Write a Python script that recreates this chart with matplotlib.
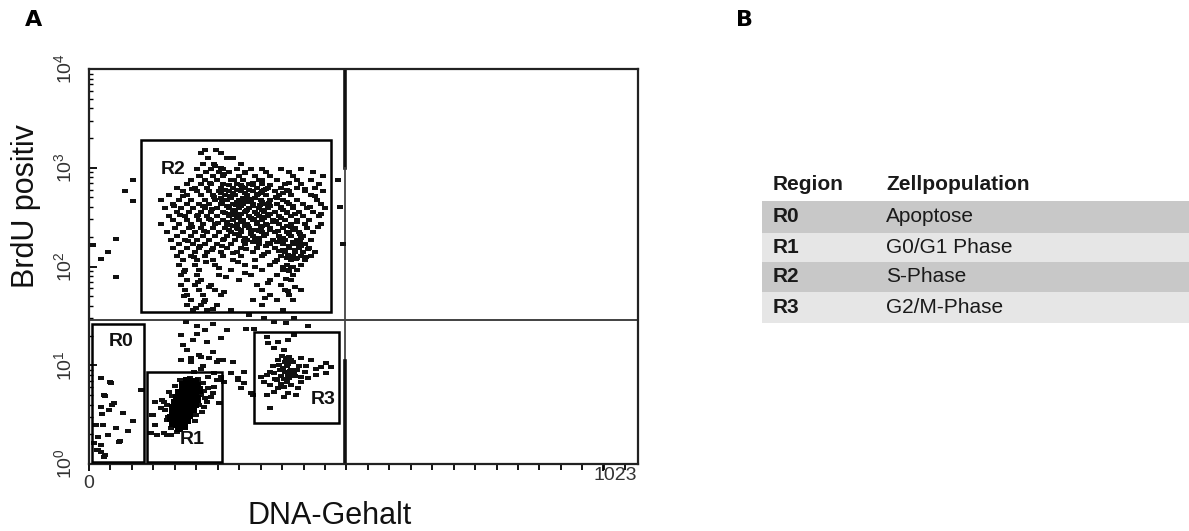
import numpy as np
import matplotlib
matplotlib.use("Agg")
import matplotlib.pyplot as plt
from matplotlib.patches import Rectangle
from matplotlib.ticker import LogLocator, FixedLocator
from matplotlib.transforms import ScaledTranslation

plt.rcParams['font.family'] = ['Liberation Sans', 'DejaVu Sans']

# ---- gates (DNA channel 0-1023, BrdU log intensity) ----
regions = ['R0', 'R1', 'R2', 'R3']
populations = ['Apoptose', 'G0/G1 Phase', 'S-Phase', 'G2/M-Phase']
gate_x0 = [6, 115, 103, 328]
gate_x1 = [109, 265, 482, 498]
gate_y0 = [1.05, 1.05, 34.6, 2.6]
gate_y1 = [26.2, 8.55, 1910, 21.7]
label_x = [64, 205, 167, 466]
label_y = [17.6, 1.75, 970, 4.45]
quad_x = 510
quad_y = 28.7

# ---- events, S-phase (R2): BrdU level -> DNA channels ----
r2_levels = [1510, 1400, 1250, 1100, 980, 900, 820, 750, 690, 630, 575, 525, 471, 430,
             393, 355, 325, 296, 270, 245, 224, 203, 185, 168, 154, 140, 128, 116, 104,
             92, 82, 73, 65, 58, 52, 46, 41, 36]
r2_channels = [
    [230, 252], [222, 262], [236, 274, 286], [226, 248, 302],
    [214, 242, 266, 294, 322, 345, 381, 421],
    [232, 258, 278, 310, 353, 397, 445],
    [218, 246, 266, 298, 330, 361, 405, 465],
    [203, 230, 254, 282, 306, 338, 373, 413, 441],
    [195, 222, 242, 266, 294, 318, 345, 389, 421, 457],
    [175, 210, 234, 262, 286, 310, 334, 357, 381, 413, 449],
    [187, 214, 238, 258, 278, 302, 326, 345, 369, 397, 429, 465],
    [159, 195, 222, 246, 270, 290, 314, 334, 353, 377, 401, 441],
    [143, 179, 203, 230, 250, 274, 298, 322, 342, 361, 385, 413, 453],
    [167, 195, 218, 238, 262, 286, 306, 326, 349, 373, 397, 425, 461],
    [151, 183, 206, 230, 254, 278, 298, 318, 338, 357, 381, 405, 433, 469],
    [175, 199, 222, 242, 266, 290, 310, 330, 349, 369, 393, 417, 445],
    [159, 191, 214, 234, 254, 278, 298, 318, 338, 357, 377, 401, 425, 457],
    [167, 195, 218, 242, 266, 286, 306, 326, 345, 365, 389, 413, 437],
    [143, 179, 203, 226, 250, 274, 294, 314, 334, 353, 377, 401, 429, 461],
    [171, 199, 222, 246, 270, 294, 318, 342, 361, 385, 409, 433],
    [155, 187, 210, 234, 258, 282, 302, 322, 345, 369, 393, 417, 445],
    [175, 203, 226, 250, 274, 298, 326, 349, 377, 401, 425],
    [163, 191, 214, 238, 266, 290, 314, 338, 365, 389, 413, 441],
    [179, 206, 230, 254, 282, 310, 338, 361, 385, 409, 429],
    [167, 195, 218, 246, 274, 302, 334, 369, 397, 417, 437],
    [183, 210, 234, 262, 294, 326, 357, 389, 409, 425, 449],
    [175, 203, 230, 266, 302, 345, 381, 405, 421, 441],
    [187, 214, 246, 286, 330, 373, 401, 429],
    [179, 210, 250, 310, 361, 393, 421],
    [191, 218, 282, 345, 385, 413],
    [183, 214, 258, 322, 373, 405],
    [195, 222, 298, 361, 401],
    [183, 210, 242, 334, 381],
    [191, 218, 250, 345, 389, 421],
    [195, 226, 262, 361, 397],
    [203, 230, 326, 373, 405],
    [195, 222, 254, 345],
    [206, 234, 282, 385],
]
r2_core_levels = [665, 595, 550, 495, 450, 410, 373, 340, 310, 283, 257, 234, 214,
                  194, 176, 161, 147, 122, 100, 92]
r2_core_channels = [
    [278, 302, 326, 361], [270, 294, 318, 349, 393], [286, 310, 342, 385],
    [262, 282, 306, 330, 373], [294, 318, 345, 393], [274, 302, 326, 361, 405],
    [286, 314, 345, 385], [278, 302, 334, 361, 409], [294, 322, 349, 381],
    [274, 302, 334, 365, 413], [286, 310, 345, 393], [278, 302, 330, 361, 405],
    [294, 322, 353, 397], [310, 338, 385, 421], [326, 373, 405], [353, 397, 421],
    [385, 409], [393, 413], [385, 405], [391, 397],
]
# scattered S-phase events between the levels
r2_extra_x = [250, 268, 289, 241, 305, 327, 352, 262, 281, 299, 318, 336, 372, 248, 264,
              292, 308, 341, 359, 381, 227, 244, 270, 289, 313, 329, 348, 371, 394, 216,
              238, 257, 281, 296, 317, 338, 355, 376, 401, 420, 205, 229, 251, 268, 291,
              309, 330, 357, 380, 398, 419, 436, 196, 220, 244, 265, 287, 312, 349, 378,
              396, 412, 432, 209, 232, 258, 296, 330, 370, 402, 188, 216, 239, 272, 311,
              356, 392, 410, 188, 228, 268, 350, 395, 212, 246, 181, 170, 186, 205, 220,
              262, 310, 345, 398, 430, 450, 440, 462, 455]
r2_extra_y = [1050, 870, 760, 700, 640, 705, 610, 560, 520, 590, 480, 545, 500, 505, 455,
              420, 470, 415, 440, 398, 410, 380, 350, 330, 365, 300, 320, 290, 345, 330,
              300, 275, 262, 240, 255, 230, 262, 228, 250, 212, 250, 228, 205, 190, 215,
              180, 195, 172, 185, 160, 175, 150, 180, 160, 148, 160, 138, 150, 135, 143,
              130, 118, 126, 125, 110, 96, 110, 100, 112, 98, 88, 70, 62, 78, 86,
              68, 75, 62, 50, 44, 55, 48, 56, 38, 37, 330, 410, 520, 610, 820,
              1000, 880, 760, 700, 610, 520, 400, 340, 250]

# ---- events, G0/G1 (R1) ----
r1_core_x = [195, 203, 210, 187, 199, 214, 206, 191, 218,
             179, 187, 195, 203, 210, 175, 183, 191, 199, 206, 214, 171, 179, 187, 195,
             203, 210, 167, 175, 183, 191, 199, 206,
             167, 175, 183, 191, 199, 163, 171, 179, 187, 195, 167, 175, 183, 179, 189]
r1_core_y = [6.9, 6.6, 6.8, 6.3, 6.0, 6.2, 5.75, 5.6, 5.6,
             5.2, 5.1, 5.2, 5.1, 5.0, 4.7, 4.55, 4.7, 4.55, 4.45, 4.55, 4.1, 4.05, 4.1, 4.05,
             3.95, 4.05, 3.7, 3.6, 3.7, 3.6, 3.5, 3.6,
             3.3, 3.2, 3.3, 3.2, 3.1, 2.9, 2.85, 2.9, 2.85, 2.8, 2.6, 2.55, 2.6, 2.3, 2.4]
r1_x = [131, 145, 155, 125, 131, 135, 155, 151, 226, 236, 246, 254, 234, 224, 201, 181,
        149, 143, 157, 169, 183, 222, 236, 248, 258, 242, 228, 127, 149, 163, 123,
        159, 222, 218, 212, 163, 175, 230, 155, 216, 228, 210, 165, 171]
r1_y = [4.25, 4.45, 3.95, 3.1, 2.5, 1.97, 1.97, 3.5, 6.6, 5.9, 5.2, 7.1, 4.25, 3.36, 7.4, 7.1,
        4.25, 3.7, 3.0, 2.6, 2.37, 6.6, 7.6, 6.0, 4.1, 4.8, 3.8, 3.1, 2.06, 1.97, 2.06,
        5.35, 5.0, 3.95, 3.1, 2.3, 2.1, 4.65, 2.8, 7.3, 5.5, 2.75, 4.9, 6.2]

# ---- events, G2/M (R3) ----
r3_x = [355, 375, 395, 407, 357, 367, 387, 397, 375, 401, 421, 441, 461, 481, 342, 355,
        367, 381, 395, 407, 421, 435, 451, 471, 348, 361, 375, 387, 401, 415, 367, 395,
        411, 355, 361, 387,
        377, 385, 393, 401, 381, 389, 397, 405, 373, 413, 365, 389, 405, 417, 361, 429,
        421, 393, 381, 471, 451, 431, 383, 391, 399, 387, 395, 379, 409, 369]
r3_y = [19.3, 17.2, 18, 20.2, 16.8, 14.9, 14.3, 12.1, 11.3, 11.3, 11.8, 11.3, 9.6, 9.6,
        7.6, 7.9, 8.4, 9.0, 7.9, 8.4, 7.6, 7.4, 7.9, 8.4, 6.8, 6.3, 5.9, 6.0, 6.3, 5.9,
        5.4, 5.2, 5.0, 5.0, 3.7, 4.8,
        10.1, 9.4, 9.8, 9.0, 7.8, 8.5, 7.4, 8.2, 7.1, 9.0, 9.8, 10.8, 10.8, 9.8, 8.5,
        8.5, 6.8, 6.8, 6.5, 10.5, 9.2, 9.8, 12.5, 11.8, 8.8, 7.2, 10.2, 8.9, 7.7, 7.3]

# ---- events, apoptotic (R0) ----
r0_x = [24, 44, 30, 50, 24, 40, 68, 14, 28, 54, 87, 38, 60, 10, 24, 18, 24, 30, 103,
        42, 32, 46, 26, 77, 18, 62, 16, 32]
r0_y = [7.4, 6.6, 5.0, 4.15, 3.8, 3.5, 3.3, 2.5, 2.5, 2.3, 2.7, 1.97, 1.67, 1.63, 1.56,
        1.39, 1.32, 1.18, 5.6, 6.8, 4.9, 3.95, 3.2, 2.15, 1.88, 1.71, 1.39, 1.23]

# ---- events outside the gates ----
other_x = [193, 214, 230, 246, 183, 206, 234, 195, 218, 246, 203, 226, 254, 187, 262,
           214, 274, 238,
           266, 286, 308, 262, 296, 302, 326, 258,
           318, 348, 367, 391, 407, 435, 312, 328,
           209, 222, 248, 262, 268, 282, 296, 308, 322, 258, 183, 203, 222,
           87, 72, 87, 54, 38, 54, 8, 24, 496, 500, 506, 391, 397, 385]
other_y = [27.4, 25, 22.8, 26.2, 20.2, 18, 17.2, 14.3, 12.7, 13.6, 10.8, 9.8, 10.8, 16,
           18.9, 20.7, 22.8, 11.8,
           11.3, 10.8, 8.6, 7.1, 7.1, 5.9, 5.0, 4.1,
           32, 30, 27.4, 26.8, 30, 25, 23.3, 23.3,
           8.5, 9.2, 8.4, 7.6, 6.8, 8.4, 7.4, 6.6, 5.2, 11.3, 11.3, 11.8, 12.1,
           750, 580, 460, 190, 140, 79, 165, 120, 760, 400, 168, 92, 90, 95]

# flatten the S-phase level table
s_x, s_y = list(r2_extra_x), list(r2_extra_y)
for lev, chans in zip(r2_levels + r2_core_levels, r2_channels + r2_core_channels):
    s_x += chans
    s_y += [lev] * len(chans)

dot_x = np.array(s_x + r1_x + r3_x + r0_x + other_x, dtype=float)
dot_y = np.array(s_y + r1_y + r3_y + r0_y + other_y, dtype=float)

# 1. FIGURE
W, H = 1189, 531
fig = plt.figure(figsize=(W / 100, H / 100), dpi=100)
ax = fig.add_axes([89 / W, (H - 464) / H, 549 / W, 395 / H])

dash = [(-1.0, -0.55), (1.0, -0.55), (1.0, 0.55), (-1.0, 0.55)]
ax.scatter(dot_x, dot_y, marker=dash, s=16, c='#111111', linewidths=0, zorder=3)
ax.scatter(r1_core_x, r1_core_y, marker='s', s=30, c='#000000', linewidths=0, zorder=3)

# quadrant markers
ax.axhline(quad_y, color='#333333', lw=1.3, zorder=2)
ax.plot([quad_x, quad_x], [1e3, 1e4], color='#111111', lw=2.6, zorder=2)
ax.plot([quad_x, quad_x], [11, 1e3], color='#444444', lw=1.3, zorder=2)
ax.plot([quad_x, quad_x], [1, 11], color='#111111', lw=2.6, zorder=2)

# gates
for name, x0, x1, y0, y1, lx, ly in zip(regions, gate_x0, gate_x1, gate_y0, gate_y1,
                                        label_x, label_y):
    ax.add_patch(Rectangle((x0, y0), x1 - x0, y1 - y0, fill=False, ec='#000000',
                           lw=1.8, zorder=4))
    ax.text(lx, ly, name, fontsize=14, fontweight='bold', ha='center', va='center',
            color='#111111', zorder=5)

ax.set_yscale('log')
ax.set_ylim(1, 1e4)
ax.set_xlim(0, 1092)
ax.yaxis.set_major_locator(LogLocator(base=10, numticks=6))
ax.yaxis.set_minor_locator(LogLocator(base=10, subs=np.arange(2, 10), numticks=12))
ax.tick_params(axis='y', which='major', direction='in', length=6, width=1.3,
               labelsize=14, labelcolor='#333333', pad=10)
ax.tick_params(axis='y', which='minor', direction='in', length=3, width=1.0)
for lab in ax.get_yticklabels():
    lab.set_rotation(90)
    lab.set_va('center')

ax.set_xticks([0, 1023])
ax.set_xticklabels(['0', '1023'])
ax.xaxis.set_minor_locator(FixedLocator(np.arange(0, 1092, 1024 / 24)))
ax.tick_params(axis='x', which='both', direction='out', length=5, width=1.3,
               labelsize=14, labelcolor='#333333', pad=3)
ax.tick_params(axis='x', which='minor', length=4)
lab1023 = ax.get_xticklabels()[1]
lab1023.set_transform(lab1023.get_transform() + ScaledTranslation(0.12, 0.08, fig.dpi_scale_trans))

for sp in ax.spines.values():
    sp.set_linewidth(1.6)
    sp.set_color('#222222')

fig.text(26 / W, 1 - 206 / H, 'BrdU positiv', rotation=90, fontsize=22,
         ha='center', va='center', color='#111111')
fig.text(330 / W, 1 - 516 / H, 'DNA-Gehalt', fontsize=22, ha='center', va='center',
         color='#111111')
fig.text(34 / W, 1 - 20 / H, 'A', fontsize=16, fontweight='bold', family='DejaVu Sans',
         ha='center', va='center')
fig.text(745 / W, 1 - 20 / H, 'B', fontsize=16, fontweight='bold', family='DejaVu Sans',
         ha='center', va='center')

# 2. TABLE (panel B)
tab = fig.add_axes([0, 0, 1, 1], zorder=-1)
tab.set_xlim(0, W)
tab.set_ylim(H, 0)
tab.axis('off')
tab.patch.set_alpha(0)
row_top = [201, 233, 262, 292]
row_bot = [233, 262, 292, 323]
row_col = ['#c8c8c8', '#e6e6e6', '#c8c8c8', '#e6e6e6']
tab.text(773, 185, 'Region', fontsize=15, fontweight='bold', va='center', color='#1a1a1a')
tab.text(886, 185, 'Zellpopulation', fontsize=15, fontweight='bold', va='center',
         color='#1a1a1a')
for name, pop, t, b, c in zip(regions, populations, row_top, row_bot, row_col):
    tab.add_patch(Rectangle((762, t), W - 762, b - t, color=c, lw=0))
    tab.text(773, (t + b) / 2, name, fontsize=15, fontweight='bold', va='center',
             color='#1a1a1a')
    tab.text(886, (t + b) / 2, pop, fontsize=15, va='center', color='#1a1a1a')

fig.savefig('out.png', dpi=100)
